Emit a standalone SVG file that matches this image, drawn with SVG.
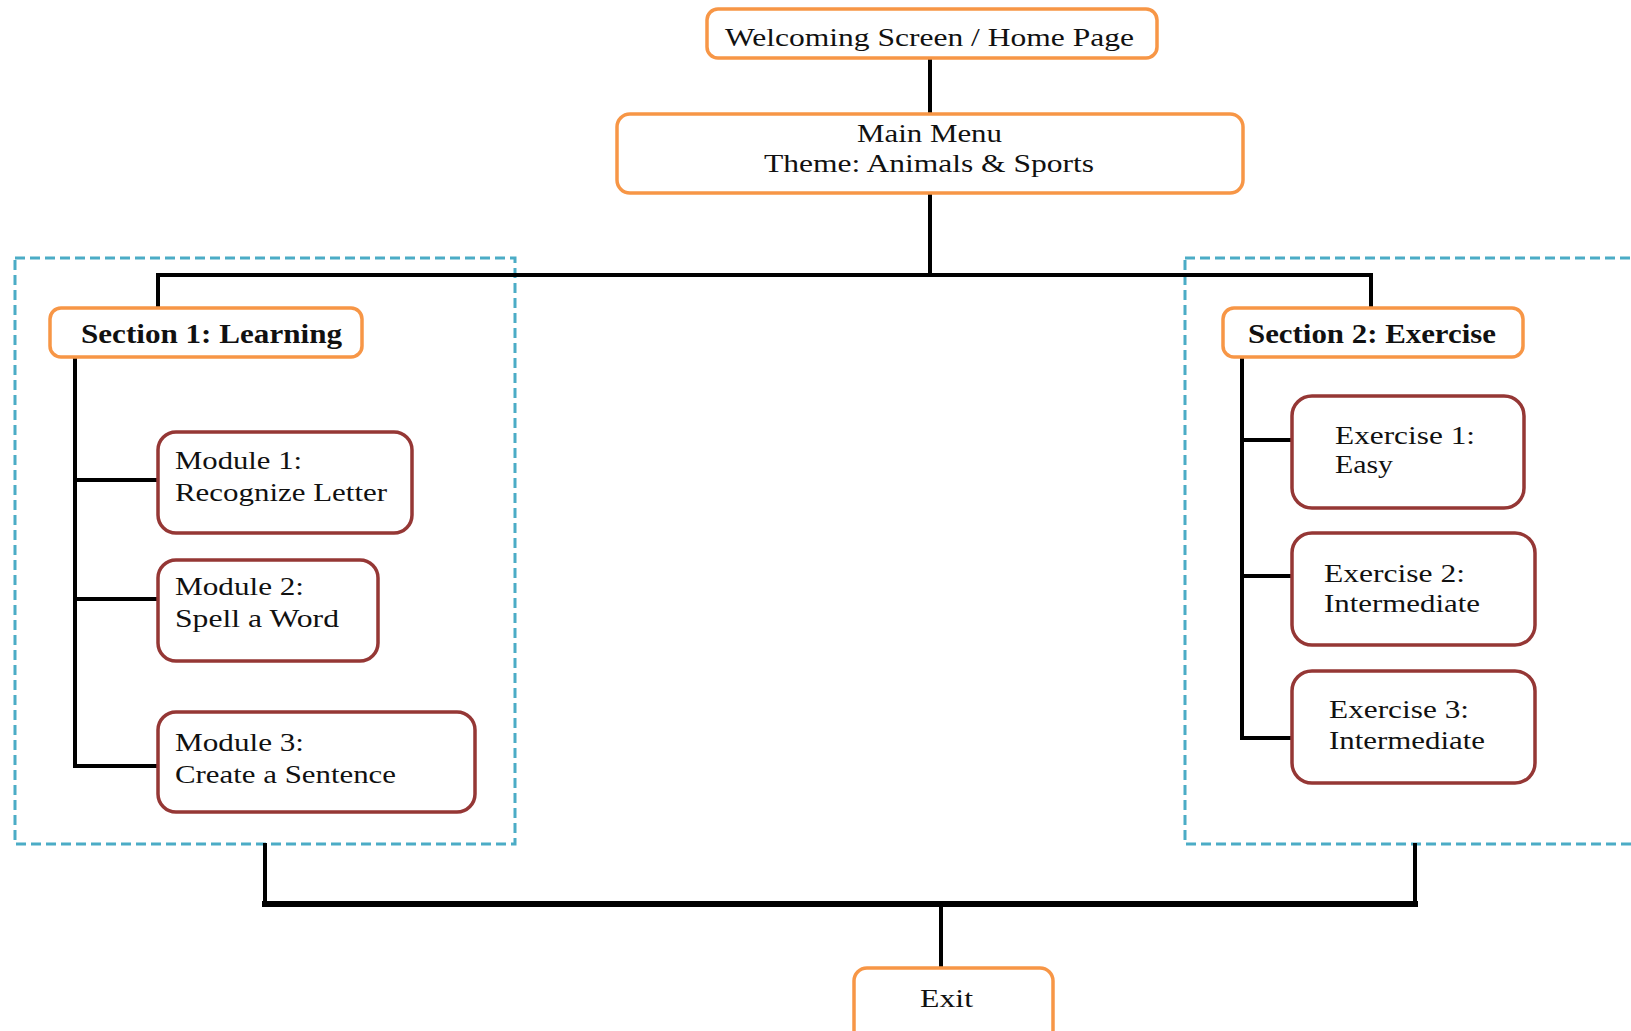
<svg xmlns="http://www.w3.org/2000/svg" width="1631" height="1031" viewBox="0 0 1631 1031">
  <style>
    .bg { fill: #ffffff; }
    .orange { fill: #ffffff; stroke: #F79646; stroke-width: 3.5; }
    .red { fill: #ffffff; stroke: #953735; stroke-width: 3.5; }
    .group { fill: none; stroke: #4BACC6; stroke-width: 3; stroke-dasharray: 10 5; }
    .wire { fill: none; stroke: #000000; stroke-width: 4; stroke-linecap: square; }
    .wire-thick { fill: none; stroke: #000000; stroke-width: 6; stroke-linecap: square; }
    text { font-family: "Liberation Serif", "Times New Roman", serif; font-size: 26px; fill: #111111; }
    .bold { font-weight: bold; font-size: 27px; }
  </style>

  <rect class="bg" x="0" y="0" width="1631" height="1031"/>

  <!-- dashed section frames -->
  <g id="frames">
    <rect class="group" x="15" y="258" width="500" height="586"/>
    <rect class="group" x="1185" y="258" width="470" height="586"/>
  </g>

  <!-- connectors -->
  <g id="connectors">
    <line class="wire" x1="930" y1="58" x2="930" y2="113"/>
    <line class="wire" x1="930" y1="193" x2="930" y2="275"/>
    <polyline class="wire" points="158,307 158,275 1371,275 1371,307"/>
    <!-- section 1 tree -->
    <polyline class="wire" points="75,357 75,766 158,766"/>
    <line class="wire" x1="75" y1="480" x2="158" y2="480"/>
    <line class="wire" x1="75" y1="599" x2="158" y2="599"/>
    <!-- section 2 tree -->
    <polyline class="wire" points="1242,357 1242,738 1291,738"/>
    <line class="wire" x1="1242" y1="440" x2="1291" y2="440"/>
    <line class="wire" x1="1242" y1="576" x2="1291" y2="576"/>
    <!-- to exit -->
    <line class="wire" x1="265" y1="845" x2="265" y2="902"/>
    <line class="wire" x1="1415" y1="845" x2="1415" y2="902"/>
    <line class="wire-thick" x1="265" y1="904" x2="1415" y2="904"/>
    <line class="wire" x1="941" y1="904" x2="941" y2="967"/>
  </g>

  <g id="welcome">
    <rect class="orange" x="707" y="9" width="450" height="49" rx="11"/>
    <text x="725" y="46" textLength="409" lengthAdjust="spacingAndGlyphs">Welcoming  Screen / Home Page</text>
  </g>

  <g id="main-menu">
    <rect class="orange" x="617" y="114" width="626" height="79" rx="13"/>
    <text x="857" y="142" textLength="145" lengthAdjust="spacingAndGlyphs">Main Menu</text>
    <text x="764" y="172" textLength="330" lengthAdjust="spacingAndGlyphs">Theme:  Animals  &amp;  Sports</text>
  </g>

  <g id="section-1">
    <rect class="orange" x="50" y="308" width="312" height="49" rx="11"/>
    <text class="bold" x="81" y="343" textLength="261" lengthAdjust="spacingAndGlyphs">Section 1: Learning</text>
  </g>

  <g id="module-1">
    <rect class="red" x="158" y="432" width="254" height="101" rx="18"/>
    <text x="175" y="469" textLength="127" lengthAdjust="spacingAndGlyphs">Module 1:</text>
    <text x="175" y="501" textLength="212" lengthAdjust="spacingAndGlyphs">Recognize  Letter</text>
  </g>

  <g id="module-2">
    <rect class="red" x="158" y="560" width="220" height="101" rx="18"/>
    <text x="175" y="595" textLength="129" lengthAdjust="spacingAndGlyphs">Module 2:</text>
    <text x="175" y="627" textLength="164" lengthAdjust="spacingAndGlyphs">Spell a Word</text>
  </g>

  <g id="module-3">
    <rect class="red" x="158" y="712" width="317" height="100" rx="18"/>
    <text x="175" y="751" textLength="129" lengthAdjust="spacingAndGlyphs">Module 3:</text>
    <text x="175" y="783" textLength="221" lengthAdjust="spacingAndGlyphs">Create  a  Sentence</text>
  </g>

  <g id="section-2">
    <rect class="orange" x="1223" y="308" width="300" height="49" rx="11"/>
    <text class="bold" x="1248" y="343" textLength="248" lengthAdjust="spacingAndGlyphs">Section 2: Exercise</text>
  </g>

  <g id="exercise-1">
    <rect class="red" x="1292" y="396" width="232" height="112" rx="20"/>
    <text x="1335" y="444" textLength="140" lengthAdjust="spacingAndGlyphs">Exercise  1:</text>
    <text x="1335" y="473" textLength="58" lengthAdjust="spacingAndGlyphs">Easy</text>
  </g>

  <g id="exercise-2">
    <rect class="red" x="1292" y="533" width="243" height="112" rx="20"/>
    <text x="1324" y="582" textLength="141" lengthAdjust="spacingAndGlyphs">Exercise  2:</text>
    <text x="1324" y="612" textLength="156" lengthAdjust="spacingAndGlyphs">Intermediate</text>
  </g>

  <g id="exercise-3">
    <rect class="red" x="1292" y="671" width="243" height="112" rx="20"/>
    <text x="1329" y="718" textLength="140" lengthAdjust="spacingAndGlyphs">Exercise  3:</text>
    <text x="1329" y="749" textLength="156" lengthAdjust="spacingAndGlyphs">Intermediate</text>
  </g>

  <g id="exit">
    <rect class="orange" x="854" y="968" width="199" height="75" rx="13"/>
    <text x="920" y="1007" textLength="53" lengthAdjust="spacingAndGlyphs">Exit</text>
  </g>
</svg>
